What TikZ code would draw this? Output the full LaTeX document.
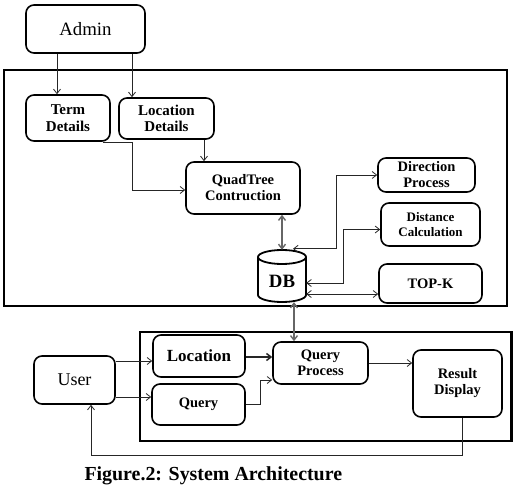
\documentclass[tikz,border=0pt]{standalone}
\usepackage{fontspec}
\setmainfont{Liberation Serif}
\usetikzlibrary{arrows.meta,calc}
\begin{document}
\begin{tikzpicture}[x=1pt,y=-1pt,
  box/.style={draw, line width=1.6pt, rounded corners=8pt, align=center, inner sep=0pt,
    font=\bfseries\fontsize{14.5}{16}\selectfont},
  frame/.style={draw, line width=2.4pt},
  conn/.style={draw=black!85, line width=0.8pt, -{Straight Barb[length=4.5pt,width=7pt]}},
  both/.style={draw=black!85, line width=0.8pt, {Straight Barb[length=4.5pt,width=7pt]}-{Straight Barb[length=4.5pt,width=7pt]}},
  grayboth/.style={draw=black!60, line width=1.4pt, {Straight Barb[length=4.5pt,width=7pt]}-{Straight Barb[length=4.5pt,width=7pt]}}
]
\useasboundingbox (0,0) rectangle (513,494);

% frames
\draw[frame] (4,70) rectangle (507,306);
\draw[frame] (140,332) rectangle (511.5,441);

% nodes
\node[box, font=\fontsize{18.8}{20}\selectfont, minimum width=119, minimum height=48] (admin) at (85.5,29) {Admin};
\node[box, font=\bfseries\fontsize{15}{16.5}\selectfont, minimum width=84, minimum height=46] (term) at (68,118) {Term\\Details};
\node[box, font=\bfseries\fontsize{15}{16.5}\selectfont, minimum width=95, minimum height=41] (locdet) at (166.5,118.5) {Location\\Details};
\node[box, minimum width=114, minimum height=52] (quad) at (243,188) {QuadTree\\Contruction};
\node[box, minimum width=97, minimum height=34] (dir) at (426.5,175) {Direction\\Process};
\node[box, font=\bfseries\fontsize{13}{15}\selectfont, minimum width=99, minimum height=43] (dist) at (430.5,224.5) {Distance\\Calculation};
\node[box, minimum width=103, minimum height=39] (topk) at (430.5,283.5) {TOP-K};

% DB cylinder
\node[minimum width=48, minimum height=52, inner sep=0pt] (db) at (282,276) {};
\draw[line width=1.8pt] (258,257) -- (258,295) arc[start angle=180, end angle=360, x radius=24, y radius=-7] -- (306,257);
\draw[line width=1.8pt] (282,257) ellipse[x radius=24, y radius=7];
\node[font=\bfseries\fontsize{18.8}{20}\selectfont] (dbtext) at (282,281) {DB};

\node[box, font=\fontsize{18}{20}\selectfont, minimum width=81, minimum height=48] (user) at (74.5,380) {User};
\node[box, font=\bfseries\fontsize{17}{19}\selectfont, minimum width=92, minimum height=42] (loc) at (199,356) {Location};
\node[box, font=\bfseries\fontsize{14.5}{16}\selectfont, minimum width=93, minimum height=41] (query) at (198.5,404.5) {Query};
\node[box, minimum width=95, minimum height=42] (qp) at (320.5,363) {Query\\Process};
\node[box, minimum width=89, minimum height=67] (res) at (457.5,383.5) {Result\\Display};

\node[font=\bfseries\fontsize{19.9}{22}\selectfont, anchor=west] (cap) at (81,476) {Figure.2: System Architecture};

% helper coordinates
\coordinate (c1) at (57,0);
\coordinate (c2) at (132,0);
\coordinate (c4) at (204,0);
\coordinate (tq) at (132,190);
\coordinate (d1) at (336,0);
\coordinate (d2) at (343,0);
\coordinate (e1) at ($(db.north)+(11,-1)$);
\coordinate (e2) at ($(db.east)+(0,7)$);
\coordinate (e2t) at ($(dist.west)+(0,5)$);
\coordinate (e3) at ($(db.east)+(0,18)$);
\coordinate (e4) at ($(db.south)+(12,0)$);
\coordinate (u1) at ($(user.east)+(0,-19)$);
\coordinate (u2) at ($(user.east)+(0,17)$);
\coordinate (l1) at ($(loc.east)+(0,1)$);
\coordinate (qq) at (260,380);
\coordinate (r1) at ($(res.south)+(4.5,0)$);
\coordinate (ru) at (91,455);

% connectors
\draw[conn] (admin.south -| c1) -- (term.north -| c1);
\draw[conn] (admin.south -| c2) -- (locdet.north -| c2);
\draw[conn] ($(term.south east)+(-8,1)$) -| (tq) -- (tq -| quad.west);
\draw[conn] (locdet.south -| c4) -- (quad.north -| c4);
\draw[grayboth] (quad.south -| db.north) -- (db.north);

\draw[both] (e1) -| (d1 |- dir.west) -- (dir.west);
\draw[both] (e2) -| (d2 |- e2t) -- (e2t);
\draw[both] (e3) -- (e3 -| topk.west);
\draw[grayboth] (e4) -- (e4 |- qp.north);

\draw[conn] (u1) -- (u1 -| loc.west);
\draw[conn] (u2) -- (u2 -| query.west);
\draw[conn, line width=1.5pt] (l1) -- (l1 -| qp.west);
\draw[conn] (query.east) -| (qq) -- (qq -| qp.west);
\draw[conn] (qp.east) -- (qp.east -| res.west);
\draw[conn] (r1) |- (ru) -- (ru |- user.south);
\end{tikzpicture}
\end{document}
